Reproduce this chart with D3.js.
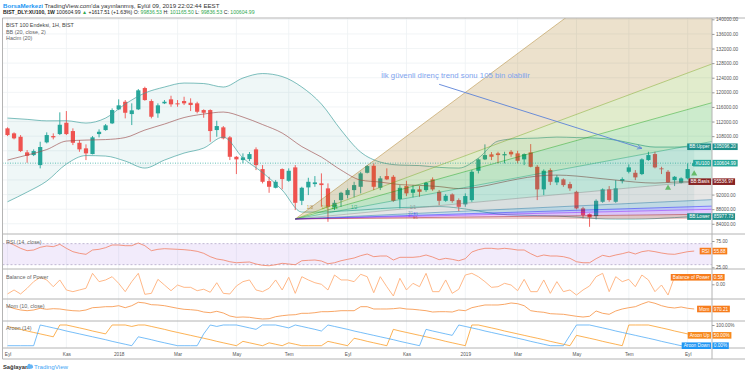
<!DOCTYPE html>
<html>
<head>
<meta charset="utf-8">
<title>BIST 100 haftalık</title>
<script src="https://d3js.org/d3.v7.min.js"></script>
<style>
  body { margin: 0; background: #fff; }
  svg { display: block; font-family: "Liberation Sans", Arial, sans-serif; }
</style>
</head>
<body>
<svg id="chart" width="745" height="375"></svg>
<script>
// Weekly candles, Sep 2017 - Sep 2019
const opens = [110134,108764,107832,103558,102818,100078,106298,108024,108572,111668,
  109394,106188,104654,103092,108572,109668,111504,115340,117422,114052,
  115340,121176,117614,114244,116984,118080,116984,117614,117148,116984,
  115148,115148,109668,110408,107668,102352,101448,101722,104380,98982,
  95694,93858,98982,95776,99448,90296,93968,94872,95064,93694,
  88488,90488,91858,93228,94132,97968,99886,93858,97064,96872,
  90762,94324,92488,93420,93228,96160,92762,90296,92050,90488,
  89306,90488,98518,101640,103010,103284,102736,103722,103284,101640,
  103558,99612,93420,98708,95338,96160,94872,92762,88214,86652,
  86104,90022,93420,90022,95694,98242,97968,97612,101448,103092,
  99174,98242,95960,95228,96434,99836.53];
const highs = [110408,109038,108298,104188,104380,106462,109038,108764,114518,114874,
  110134,106928,105750,108024,109860,111312,115614,118080,117888,116984,
  120902,121532,118080,116984,117888,119066,117888,118792,118354,117422,
  115340,115340,112216,110764,108024,102544,103284,103640,104928,100078,
  96872,95968,99174,99174,100078,94132,96598,97064,97804,95064,
  90488,92762,93694,95502,98242,100078,100544,97064,99174,97338,
  94598,95776,94598,94324,95502,96708,93228,92132,92324,90954,
  92324,98708,101914,105750,103640,103722,103722,104188,103996,103284,
  105832,100078,98900,99174,97338,96434,95502,93036,88652,86844,
  90680,93694,94324,95968,96708,100270,98708,101914,103722,103722,
  99612,98708,97064,96708,100544,101165.5];
const lows = [108024,107120,103640,100708,102544,99174,106024,107120,108298,108298,
  105558,103722,101448,103010,107668,109476,111312,115148,112874,111038,
  115148,117696,112874,113038,116792,116052,116052,116518,114874,114244,
  113038,106462,107832,107120,101448,97612,100544,101174,98708,95064,
  92488,93694,93420,95502,87748,89118,91858,94132,88652,84542,
  87748,88652,90954,91228,92324,97804,93228,93228,95968,90022,
  88214,91584,91228,91392,92762,93036,89118,90022,89748,87474,
  88652,90022,97804,101448,101448,100544,100544,102352,100544,100078,
  99448,90488,91858,94598,94598,94132,93036,87940,85474,83172,
  85200,89748,90022,89748,95064,97804,95968,97338,101256,99174,
  97612,95228,94324,95064,96160,99836.53];
const closes = [108298,107394,103914,102626,103914,105024,108298,107668,111120,108572,
  106188,104380,103284,107668,109202,110956,115148,116436,114408,115066,
  120546,117888,113312,116436,117422,116710,116710,116984,116518,114682,
  114408,109394,110764,107394,102352,101640,102188,103092,100078,95502,
  94132,95502,96242,98518,89748,93858,95502,95338,94598,88652,
  89748,92488,93228,94598,97804,99804,94132,96434,96160,90296,
  93858,92324,93420,92762,95228,93420,90296,91666,90214,88652,
  91584,98242,101640,102818,102352,102818,103092,103010,101256,103092,
  99612,93420,98518,95502,96708,94598,93694,88214,86378,85748,
  90296,93420,90488,93694,96242,99448,96708,101640,102818,99448,
  98982,95338,96872,96434,98987,100604.99];

// Bollinger Bands (20, close, 2), sampled every third week
const bbBars = [0,3,6,9,12,15,18,21,24,27,30,33,36,39,42,45,48,51,54,57,60,63,66,69,72,75,78,81,84,87,90,93,96,99,102,105];
const bbUpper = [112956,112600,112189,112216,111586,112956,116792,119806,121450,122546,122409,121450,
  123916,125149,124327,121450,116792,109668,103640,100900,100078,99941,99448,99256,
  101996,106654,107339,107476,107750,107613,107476,106928,105832,105010,105010,105096.2];
const bbBasis = [101448,102818,104325,106654,106928,107065,107613,109668,111312,113093,114052,114600,
  113230,111175,108846,105147,102270,98708,95968,95420,94735,94516,94187,93639,
  94050,95146,96242,97066,97338,97066,96516,95968,95420,95146,95420,95536.97];
const bbLower = [90022,92680,95694,100352,102681,102544,101174,99256,101448,103366,104736,107750,
  102016,98023,93228,87200,87200,87474,87748,88159,88433,88570,88707,88296,
  87474,86652,86378,86241,86104,85830,85419,85282,85282,85419,85693,85977.73];

// lower panes
const rsiValues = [73.5,67.4,61.1,56.6,57.9,63.0,65.5,64.2,68.7,61.1,
  54.7,51.6,49.7,57.9,59.2,62.3,67.4,67.4,66.1,66.1,
  71.2,66.1,56.6,59.2,60.4,59.8,59.2,58.5,57.3,55.4,
  51.6,45.2,40.8,38.9,35.6,33.7,34.5,35.1,31.3,28.8,
  28.0,29.9,32.6,31.3,29.9,37.5,38.3,38.9,37.0,31.8,
  33.7,37.5,40.2,42.7,47.1,50.3,45.2,46.5,46.5,38.9,
  44.0,44.0,44.0,45.2,48.4,44.6,39.5,42.1,40.2,37.5,
  41.4,54.1,58.5,61.1,61.1,59.8,61.1,59.8,57.9,57.9,
  50.9,45.2,48.4,46.5,46.5,45.2,42.1,35.6,33.7,33.7,
  41.4,47.8,45.2,48.4,50.9,54.1,50.3,54.7,56.6,54.7,
  52.2,50.3,49.7,52.2,54.7,55.88];
const bopValues = [-0.80,-0.47,-0.80,-0.33,0.22,0.58,0.36,-0.20,0.36,-0.47,
  -0.61,-0.47,-0.33,0.91,0.22,0.36,0.63,0.08,-0.61,0.22,
  0.91,-0.83,-0.75,0.41,-0.06,-0.53,-0.06,-0.25,-0.25,-0.53,
  -0.41,-0.66,0.13,-0.75,-0.80,-0.14,0.22,0.36,-0.47,-0.61,
  -0.33,0.36,-0.47,0.58,-0.75,0.63,0.36,0.13,0.00,-0.47,
  0.77,0.36,0.36,0.22,0.83,0.63,-0.70,0.63,-0.20,-0.97,
  0.50,-0.47,0.08,-0.20,0.91,-0.61,-0.61,0.36,-0.75,-0.41,
  0.77,0.91,0.63,0.22,-0.25,-0.20,0.08,-0.06,-0.53,0.41,
  -0.61,-0.61,0.36,-0.75,0.22,-0.61,-0.47,-0.89,-0.47,-0.14,
  0.63,0.91,-0.61,0.63,0.22,0.41,-0.20,0.77,0.36,-0.61,
  -0.06,-0.89,0.63,0.36,0.44,0.58];
const momValues = [6615,1978,-1046,-2457,-1046,2381,365,1575,970,-1046,
  -2457,-3062,-1046,3591,4397,5607,5607,7623,3591,7623,
  14477,13066,9639,9034,7623,5002,2381,365,-441,-1651,
  -5078,-6489,-3667,-7094,-13142,-15763,-15158,-15763,-17779,-19190,
  -18585,-14553,-12537,-11126,-10521,-7699,-7699,-6489,-4473,-4473,
  -3667,-2457,-2457,-2457,5607,5607,970,970,970,1575,
  2986,970,365,-1046,-2457,-5078,-4473,-4473,-5078,-1046,
  -2457,3591,6413,9034,9034,9034,10445,13066,11655,7623,
  -2457,-4473,-5683,-8505,-9110,-9715,-11731,-13747,-15158,-13747,
  -3062,-7699,-9715,-3062,970,3591,5607,11050,15687,12461,
  7623,4397,2986,5002,2381,970.21];
const aroonUp = [93,86,79,71,64,57,50,43,100,100,
  93,86,79,71,64,57,100,100,100,93,
  100,100,93,86,79,71,64,57,50,43,
  36,29,21,14,7,0,21,14,7,0,
  14,7,0,14,7,0,0,0,0,21,
  14,7,0,36,29,21,14,7,0,79,
  71,64,57,50,43,36,29,21,14,7,
  0,100,100,93,86,79,71,64,57,50,
  43,36,29,21,14,7,0,50,43,36,
  29,21,14,7,0,100,100,100,100,93,
  86,79,71,64,57,50];
const aroonDown = [0,0,0,0,0,100,93,86,79,71,
  64,57,50,43,36,29,21,14,7,0,
  43,36,29,21,14,7,0,0,0,0,
  57,100,93,100,100,100,93,86,79,100,
  100,100,93,86,100,93,86,79,71,100,
  93,86,79,71,64,57,50,43,36,29,
  21,14,7,0,79,71,64,57,50,100,
  93,86,79,71,64,57,50,43,36,29,
  21,14,7,0,0,0,50,100,100,100,
  93,86,79,71,64,57,50,43,36,29,
  21,14,7,0,0,0];

// axis labels
const monthBars = [0, 9, 17, 26, 35, 43, 52, 61, 70, 78, 87, 95, 104];
const monthLabels = ['Eyl', 'Kas', '2018', 'Mar', 'May', 'Tem', 'Eyl', 'Kas', '2019', 'Mar', 'May', 'Tem', 'Eyl'];
const priceTicks = [84000, 88000, 92000, 96000, 100000, 104000, 108000, 112000, 116000, 120000, 124000, 128000, 132000, 136000, 140000];

// Gann fan drawn on the chart (anchor points)
const gannStart = [44, 85300];
const gannEnd = [62, 88300];
const gannLevels = ['1/8', '1/4', '1/3', '1/2', '1/1', '2/1', '3/1', '4/1', '8/1'];
const gannColors = ['#a06b00', '#699e00', '#009b00', '#009965', '#808080', '#006599', '#0000ff', '#8000ff', '#a00000'];

// note + arrow, and the two signal triangles
const noteText = 'İlk güvenli direnç trend sonu 105 bin olabilir';
const notePos = [57.1, 124050];
const arrowFrom = [66, 122200];
const arrowTo = [97, 104650];
const markerBars = [101, 105];
const markerPrices = [93800, 97700];

const svg = d3.select('#chart');
const left = 2.5, right = 712;

const x = d3.scaleLinear().domain([0, 105]).range([7.5, 694.2]);
const yMain = d3.scaleLinear().domain([81200, 140360]).range([234, 18]);
const yRsi = d3.scaleLinear().domain([21.8, 88.3]).range([269, 234]);
const yBop = d3.scaleLinear().domain([-1.218, 1.268]).range([299, 269]);
const yMom = d3.scaleLinear().domain([-23200, 21100]).range([321, 299]);
const yAroon = d3.scaleLinear().domain([-11.1, 119.3]).range([348, 321]);

const panes = [
  { id: 'main', top: 18, bottom: 234 },
  { id: 'rsi', top: 234, bottom: 269 },
  { id: 'bop', top: 269, bottom: 299 },
  { id: 'mom', top: 299, bottom: 321 },
  { id: 'aroon', top: 321, bottom: 348 }
];

const defs = svg.append('defs');
panes.forEach(p => {
  defs.append('clipPath').attr('id', 'clip-' + p.id)
    .append('rect').attr('x', left).attr('y', p.top).attr('width', right - left).attr('height', p.bottom - p.top);
});
defs.append('marker').attr('id', 'arrowHead').attr('viewBox', '0 0 10 10')
  .attr('refX', 9).attr('refY', 5).attr('markerWidth', 6).attr('markerHeight', 6)
  .attr('orient', 'auto')
  .append('path').attr('d', 'M0,1 L9,5 L0,9').attr('fill', 'none').attr('stroke', '#5b82d8').attr('stroke-width', 1.4);

// grid
const grid = svg.append('g');
grid.selectAll('.hg').data(priceTicks).enter().append('line')
  .attr('x1', left).attr('x2', right)
  .attr('y1', d => yMain(d)).attr('y2', d => yMain(d))
  .attr('stroke', '#edf1f4').attr('stroke-width', 0.8);
grid.selectAll('.vg').data(monthBars).enter().append('line')
  .attr('x1', d => x(d)).attr('x2', d => x(d))
  .attr('y1', 18).attr('y2', 348)
  .attr('stroke', '#edf1f4').attr('stroke-width', 0.8);

// main pane
const main = svg.append('g').attr('clip-path', 'url(#clip-main)');

const bandArea = d3.area()
  .x((d, i) => x(bbBars[i]))
  .y0((d, i) => yMain(bbLower[i]))
  .y1(d => yMain(d))
  .curve(d3.curveMonotoneX);
main.append('path').datum(bbUpper).attr('d', bandArea).attr('fill', 'rgba(25,135,135,0.07)');

// candles
const candles = main.append('g');
closes.forEach((c, i) => {
  const up = c >= opens[i];
  const col = up ? '#26a69a' : '#ef5350';
  candles.append('line')
    .attr('x1', x(i)).attr('x2', x(i))
    .attr('y1', yMain(highs[i])).attr('y2', yMain(lows[i]))
    .attr('stroke', col).attr('stroke-width', 0.9);
  const top = yMain(Math.max(c, opens[i]));
  const h = Math.max(0.9, yMain(Math.min(c, opens[i])) - top);
  candles.append('rect')
    .attr('x', x(i) - 2.1).attr('width', 4.2)
    .attr('y', top).attr('height', h)
    .attr('fill', col);
});

// BB lines
const bbLine = d3.line().x((d, i) => x(bbBars[i])).y(d => yMain(d)).curve(d3.curveMonotoneX);
main.append('path').datum(bbUpper).attr('d', bbLine).attr('fill', 'none').attr('stroke', '#3f9f9c').attr('stroke-width', 0.9).attr('opacity', 0.75);
main.append('path').datum(bbLower).attr('d', bbLine).attr('fill', 'none').attr('stroke', '#3f9f9c').attr('stroke-width', 0.9).attr('opacity', 0.75);
main.append('path').datum(bbBasis).attr('d', bbLine).attr('fill', 'none').attr('stroke', '#9b4a4a').attr('stroke-width', 0.9).attr('opacity', 0.7);

// Gann fan
const ox = x(gannStart[0]), oy = yMain(gannStart[1]);
const ex = x(gannEnd[0]), ey = yMain(gannEnd[1]);
const baseSlope = (ey - oy) / (ex - ox);
const fanEnds = gannLevels.map(lvl => {
  const [a, b] = lvl.split('/').map(Number);
  return [right, oy + baseSlope * (b / a) * (right - ox)];
});
const fan = main.append('g');
gannLevels.forEach((lvl, j) => {
  const next = j < gannLevels.length - 1 ? fanEnds[j + 1] : [right, oy];
  fan.append('path')
    .attr('d', d3.line()([[ox, oy], fanEnds[j], next]))
    .attr('fill', gannColors[j]).attr('fill-opacity', 0.2);
});
gannLevels.forEach((lvl, j) => {
  fan.append('line')
    .attr('x1', ox).attr('y1', oy).attr('x2', fanEnds[j][0]).attr('y2', fanEnds[j][1])
    .attr('stroke', gannColors[j]).attr('stroke-width', 0.8).attr('stroke-opacity', 0.5);
});
// level labels: 1/x along the top edge of the box, x/1 in a small two-column stack at its right edge
const stackPos = { '2/1': [-0.3, 'end', 213.6], '3/1': [0.3, 'start', 215.3], '4/1': [-0.3, 'end', 217.3], '8/1': [0.3, 'start', 219] };
gannLevels.forEach((lvl, j) => {
  const [a, b] = lvl.split('/').map(Number);
  const t = fan.append('text').attr('fill', gannColors[j]).attr('fill-opacity', 0.75).text(lvl);
  if (a <= b) {
    t.attr('x', ox + (ex - ox) * a / b).attr('y', ey + 1.3)
      .attr('text-anchor', 'middle').attr('font-size', 4.5);
  } else {
    const s = stackPos[lvl];
    t.attr('x', ex + s[0]).attr('y', s[2]).attr('text-anchor', s[1]).attr('font-size', 3.2);
  }
});

// last price line
main.append('line')
  .attr('x1', left).attr('x2', right)
  .attr('y1', yMain(closes[closes.length - 1])).attr('y2', yMain(closes[closes.length - 1]))
  .attr('stroke', '#26a69a').attr('stroke-width', 0.7).attr('stroke-dasharray', '1,1.5');

// note and arrow
main.append('line')
  .attr('x1', x(arrowFrom[0])).attr('y1', yMain(arrowFrom[1]))
  .attr('x2', x(arrowTo[0])).attr('y2', yMain(arrowTo[1]))
  .attr('stroke', '#5b82d8').attr('stroke-width', 0.9)
  .attr('marker-end', 'url(#arrowHead)');
main.append('text')
  .attr('x', x(notePos[0])).attr('y', yMain(notePos[1]))
  .attr('font-size', 6.6).attr('fill', '#7ea3ee')
  .attr('textLength', 149).attr('lengthAdjust', 'spacingAndGlyphs')
  .text(noteText);

// signal triangles
main.selectAll('.tri').data(markerBars).enter().append('path')
  .attr('d', d3.symbol(d3.symbolTriangle).size(16))
  .attr('transform', (d, i) => `translate(${x(d)},${yMain(markerPrices[i])})`)
  .attr('fill', '#66bb6a');

// RSI pane
const rsiG = svg.append('g').attr('clip-path', 'url(#clip-rsi)');
rsiG.append('rect').attr('x', left).attr('width', right - left)
  .attr('y', yRsi(70)).attr('height', yRsi(30) - yRsi(70))
  .attr('fill', 'rgba(150,90,220,0.12)');
[70, 30].forEach(v => {
  rsiG.append('line').attr('x1', left).attr('x2', right).attr('y1', yRsi(v)).attr('y2', yRsi(v))
    .attr('stroke', '#a89cc0').attr('stroke-width', 0.7).attr('stroke-dasharray', '2,2');
});
rsiG.append('path').datum(rsiValues)
  .attr('d', d3.line().x((d, i) => x(i)).y(d => yRsi(d)))
  .attr('fill', 'none').attr('stroke', '#f27c5c').attr('stroke-width', 0.9).attr('opacity', 0.85);

// Balance of Power pane
svg.append('g').attr('clip-path', 'url(#clip-bop)')
  .append('path').datum(bopValues)
  .attr('d', d3.line().x((d, i) => x(i)).y(d => yBop(d)))
  .attr('fill', 'none').attr('stroke', '#ffb07a').attr('stroke-width', 0.9);

// Momentum pane
svg.append('g').attr('clip-path', 'url(#clip-mom)')
  .append('path').datum(momValues)
  .attr('d', d3.line().x((d, i) => x(i)).y(d => yMom(d)))
  .attr('fill', 'none').attr('stroke', '#f79c55').attr('stroke-width', 0.9);

// Aroon pane
const aroonG = svg.append('g').attr('clip-path', 'url(#clip-aroon)');
aroonG.append('path').datum(aroonUp)
  .attr('d', d3.line().x((d, i) => x(i)).y(d => yAroon(d)))
  .attr('fill', 'none').attr('stroke', '#fb8c00').attr('stroke-width', 0.9).attr('opacity', 0.75);
aroonG.append('path').datum(aroonDown)
  .attr('d', d3.line().x((d, i) => x(i)).y(d => yAroon(d)))
  .attr('fill', 'none').attr('stroke', '#42a5f5').attr('stroke-width', 0.9).attr('opacity', 0.8);

// frame and separators
const frame = svg.append('g').attr('stroke', '#b4b4b4');
[18, 234, 269, 299, 321, 348, 359].forEach(y => {
  frame.append('line').attr('x1', left).attr('x2', 745).attr('y1', y).attr('y2', y).attr('stroke-width', 1);
});
frame.append('line').attr('x1', left).attr('x2', left).attr('y1', 18).attr('y2', 359).attr('stroke-width', 1);
frame.append('line').attr('x1', right).attr('x2', right).attr('y1', 18).attr('y2', 359).attr('stroke-width', 1);

// tags on the right axis (last values); price ticks under them are hidden like on the site
const last = closes.length - 1;
const mainTags = [
  [yMain(bbUpper[bbUpper.length - 1]), 'BB:Upper', d3.format('.2f')(bbUpper[bbUpper.length - 1]), '#1f8f8a'],
  [yMain(closes[last]), 'XU100', d3.format('.2f')(closes[last]), '#26a69a'],
  [yMain(bbBasis[bbBasis.length - 1]), 'BB:Basis', d3.format('.2f')(bbBasis[bbBasis.length - 1]), '#872323'],
  [yMain(bbLower[bbLower.length - 1]), 'BB:Lower', d3.format('.2f')(bbLower[bbLower.length - 1]), '#1f8f8a']
];
const shownTicks = priceTicks.filter(t => mainTags.every(tg => Math.abs(yMain(t) - tg[0]) > 6.8));

// right axes
function styleAxis(g) {
  g.select('.domain').remove();
  g.selectAll('.tick line').attr('stroke', '#9a9a9a');
  g.selectAll('.tick text').attr('font-size', 4.7).attr('fill', '#555')
    .attr('font-family', '"Liberation Sans", Arial, sans-serif');
}
svg.append('g').attr('transform', `translate(${right},0)`)
  .call(d3.axisRight(yMain).tickValues(shownTicks).tickFormat(d3.format('.2f')).tickSize(2.5).tickPadding(1.5))
  .call(styleAxis);
svg.append('g').attr('transform', `translate(${right},0)`)
  .call(d3.axisRight(yRsi).tickValues([25, 75]).tickFormat(d3.format('.2f')).tickSize(2.5).tickPadding(1.5))
  .call(styleAxis);
svg.append('g').attr('transform', `translate(${right},0)`)
  .call(d3.axisRight(yBop).tickValues([0]).tickFormat(d3.format('.2f')).tickSize(2.5).tickPadding(1.5))
  .call(styleAxis);
svg.append('g').attr('transform', `translate(${right},0)`)
  .call(d3.axisRight(yAroon).tickValues([100]).tickFormat(d => d.toFixed(2) + '%').tickSize(2.5).tickPadding(1.5))
  .call(styleAxis);

// time axis
svg.append('g').attr('transform', 'translate(0,348)')
  .call(d3.axisBottom(x).tickValues(monthBars).tickFormat((d, i) => monthLabels[i]).tickSize(0).tickPadding(4.5))
  .call(styleAxis);

function tag(y, name, value, color) {
  const g = svg.append('g');
  const vt = g.append('text').attr('x', right + 1.8).attr('y', y + 1.7)
    .attr('font-size', 4.7).attr('fill', '#fff').text(value);
  const vw = vt.node().getComputedTextLength();
  g.insert('rect', 'text').attr('x', right + 0.5).attr('y', y - 3.3)
    .attr('width', vw + 3).attr('height', 6.6).attr('fill', color);
  const nt = g.append('text').attr('x', right - 2.5).attr('y', y + 1.7)
    .attr('text-anchor', 'end').attr('font-size', 4.7).attr('fill', '#fff').text(name);
  const nw = nt.node().getComputedTextLength();
  g.insert('rect', 'text').attr('x', right - nw - 4.5).attr('y', y - 3.3)
    .attr('width', nw + 3.5).attr('height', 6.6).attr('fill', color);
}
mainTags.forEach(t => tag(...t));
tag(yRsi(rsiValues[last]), 'RSI', d3.format('.2f')(rsiValues[last]), '#f77c1c');
tag(yBop(bopValues[last]), 'Balance of Power', d3.format('.2f')(bopValues[last]), '#f77c1c');
tag(yMom(momValues[last]), 'Mom', d3.format('.2f')(momValues[last]), '#f77c1c');
tag(yAroon(aroonUp[last]), 'Aroon Up', d3.format('.2f')(aroonUp[last]) + '%', '#f7891c');
tag(yAroon(aroonDown[last]), 'Aroon Down', d3.format('.2f')(aroonDown[last]) + '%', '#2196f3');

// pane legends
const legend = svg.append('g').attr('font-size', 5.4).attr('fill', '#666');
legend.append('text').attr('x', 6).attr('y', 27).attr('fill', '#444').text('BIST 100 Endeksi, 1H, BIST');
legend.append('text').attr('x', 6).attr('y', 33.6).text('BB (20, close, 2)');
legend.append('text').attr('x', 6).attr('y', 40.2).text('Hacim (20)');
legend.append('text').attr('x', 6).attr('y', 243.6).text('RSI (14, close)');
legend.append('text').attr('x', 6).attr('y', 278.6).text('Balance of Power');
legend.append('text').attr('x', 6).attr('y', 308).text('Mom (10, close)');
legend.append('text').attr('x', 6).attr('y', 330.2).text('Aroon (14)');

// header: built at 6px, then scaled to the width it has on the reference
function fitText(t, width) {
  const w = t.node().getComputedTextLength();
  t.attr('font-size', 6 * width / w);
}
const h1 = svg.append('text').attr('x', 3).attr('y', 7.8).attr('font-size', 6).attr('fill', '#333');
h1.append('tspan').attr('fill', '#2196f3').attr('font-weight', 'bold').text('BorsaMerkezi');
h1.append('tspan').text(" TradingView.com'da yayınlanmış, Eylül 09, 2019 22:02:44 EEST");
fitText(h1, 217);

const h2 = svg.append('text').attr('x', 3).attr('y', 14.4).attr('font-size', 6).attr('fill', '#222');
const green = '#2fa84f';
[
  ['BIST_DLY:XU100, 1W', '#222', 'bold'],
  ['  100604.99 ', '#222'],
  ['▲', green],
  [' +1617.51 (+1.63%) O: ', '#222'],
  ['99836.53', green],
  [' H: ', '#222'],
  ['101165.50', green],
  [' L: ', '#222'],
  ['99836.53', green],
  [' C: ', '#222'],
  ['100604.99', green]
].forEach(p => {
  const t = h2.append('tspan').attr('fill', p[1]).text(p[0]);
  if (p[2]) t.attr('font-weight', p[2]);
});
fitText(h2, 252);

// footer
svg.append('text').attr('x', 3).attr('y', 368.6).attr('font-size', 5.8).attr('font-weight', 'bold')
  .attr('fill', '#333').text('Sağlayan:');
const logo = svg.append('g').attr('fill', '#64b5f6');
logo.append('ellipse').attr('cx', 30).attr('cy', 367).attr('rx', 3.2).attr('ry', 1.8);
logo.append('circle').attr('cx', 29.2).attr('cy', 365.4).attr('r', 1.6);
logo.append('circle').attr('cx', 31.3).attr('cy', 365.8).attr('r', 1.3);
svg.append('text').attr('x', 34).attr('y', 368.6).attr('font-size', 6.2)
  .attr('fill', '#42a5f5').text('TradingView');
</script>
</body>
</html>
